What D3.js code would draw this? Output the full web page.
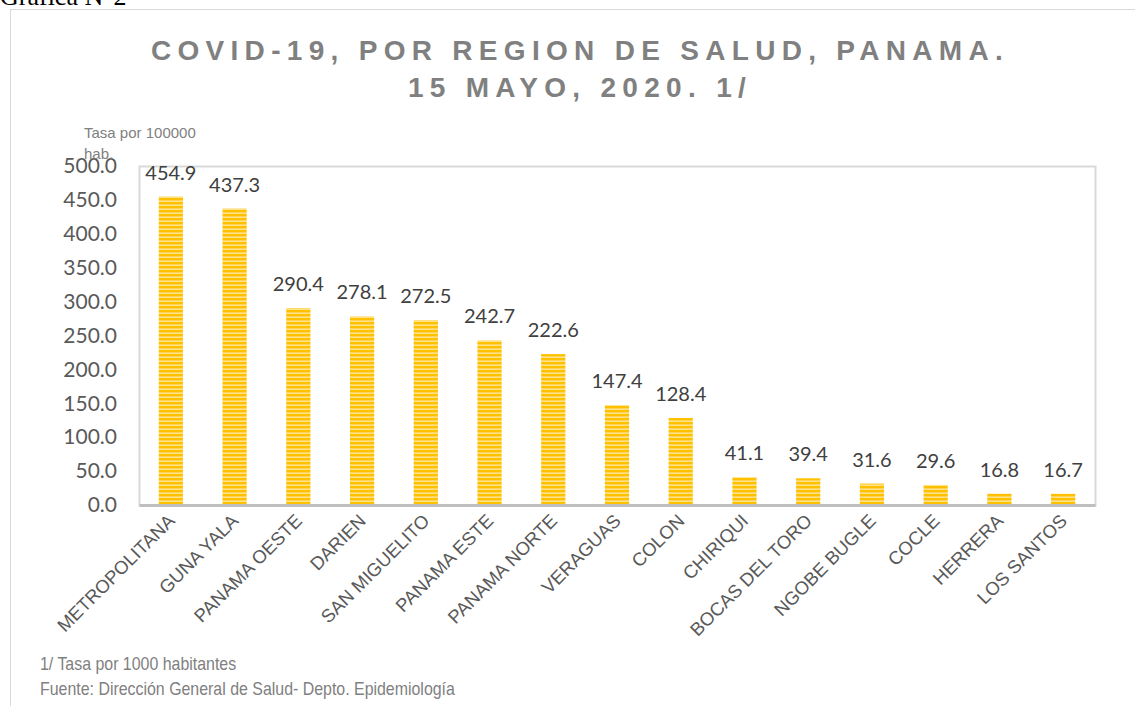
<!DOCTYPE html>
<html>
<head>
<meta charset="utf-8">
<script src="https://cdn.jsdelivr.net/npm/d3@7"></script>
<style>
  body { margin: 0; background: #fff; }
  svg { display: block; }
</style>
</head>
<body>
<svg id="chart" width="1135" height="706"></svg>
<script>
// datos de la grafica
const regiones = ["METROPOLITANA", "GUNA YALA", "PANAMA OESTE", "DARIEN", "SAN MIGUELITO",
  "PANAMA ESTE", "PANAMA NORTE", "VERAGUAS", "COLON", "CHIRIQUI", "BOCAS DEL TORO",
  "NGOBE BUGLE", "COCLE", "HERRERA", "LOS SANTOS"];
const tasas = [454.9, 437.3, 290.4, 278.1, 272.5, 242.7, 222.6, 147.4, 128.4, 41.1, 39.4, 31.6, 29.6, 16.8, 16.7];
const yTicks = [0, 50, 100, 150, 200, 250, 300, 350, 400, 450, 500];

const svg = d3.select("#chart");
const margin = { top: 166, left: 139 };
const boundsW = 1095 - margin.left;
const boundsH = 505 - margin.top;

// patron de rayas para las barras
const defs = svg.append("defs");
const pat = defs.append("pattern")
  .attr("id", "rayas")
  .attr("patternUnits", "userSpaceOnUse")
  .attr("width", 8).attr("height", 4);
pat.append("rect").attr("width", 8).attr("height", 4).attr("fill", "#ffe38a");
pat.append("rect").attr("width", 8).attr("height", 2.4).attr("fill", "#ffc000");

// marco exterior
svg.append("rect")
  .attr("x", 10.5).attr("y", 9.5)
  .attr("width", 1140).attr("height", 720)
  .attr("fill", "none").attr("stroke", "#d9d9d9");

svg.append("text")
  .attr("x", 0).attr("y", 5)
  .style("font-family", "'Liberation Serif', serif")
  .style("font-size", "26px")
  .attr("fill", "#000")
  .text("Gráfica N°2");

// titulo
const titulo = ["COVID-19, POR REGION DE SALUD, PANAMA.", "15 MAYO, 2020. 1/"];
svg.selectAll(".titulo")
  .data(titulo)
  .enter()
  .append("text")
  .attr("x", 580)
  .attr("y", (d, i) => 60 + i * 37)
  .attr("text-anchor", "middle")
  .style("font-family", "'Liberation Sans', Arial, sans-serif")
  .style("font-size", "28px")
  .style("font-weight", "bold")
  .style("letter-spacing", "6.3px")
  .attr("fill", "#808080")
  .text(d => d);

// escalas
const scaleX = d3.scaleBand()
  .domain(regiones)
  .range([0, boundsW])
  .paddingInner(0.62)
  .paddingOuter(0.31);

const scaleY = d3.scaleLinear()
  .domain([0, 500])
  .range([boundsH, 0]);

const g = svg.append("g")
  .attr("transform", `translate(${margin.left}, ${margin.top})`);

// borde del area de graficos
g.append("rect")
  .attr("x", 0.5).attr("y", 0.5)
  .attr("width", boundsW).attr("height", boundsH)
  .attr("fill", "none").attr("stroke", "#d9d9d9").attr("stroke-width", 2);

// eje Y
const yAxis = d3.axisLeft(scaleY)
  .tickValues(yTicks)
  .tickFormat(d3.format(".1f"))
  .tickSize(0)
  .tickPadding(22);
const gy = g.append("g").call(yAxis);
gy.select(".domain").remove();
gy.selectAll("text")
  .style("font-family", "Lato, 'Open Sans', sans-serif")
  .style("font-size", "21px")
  .attr("fill", "#595959");

// barras
g.selectAll(".bar")
  .data(tasas)
  .enter()
  .append("rect")
  .attr("x", (d, i) => scaleX(regiones[i]))
  .attr("y", d => scaleY(d))
  .attr("width", scaleX.bandwidth())
  .attr("height", d => boundsH - scaleY(d))
  .attr("fill", "url(#rayas)");

// etiquetas de datos
g.selectAll(".etiqueta")
  .data(tasas)
  .enter()
  .append("text")
  .attr("x", (d, i) => scaleX(regiones[i]) + scaleX.bandwidth() / 2)
  .attr("y", d => scaleY(d) - 17)
  .attr("text-anchor", "middle")
  .style("font-family", "Lato, 'Open Sans', sans-serif")
  .style("font-size", "20px")
  .attr("fill", "#404040")
  .text(d => d.toFixed(1));

// eje X
const xAxis = d3.axisBottom(scaleX).tickSize(0).tickPadding(0);
const gx = g.append("g")
  .attr("transform", `translate(0, ${boundsH})`)
  .call(xAxis);
gx.select(".domain")
  .attr("stroke", "#bfbfbf")
  .attr("stroke-width", 3);
gx.selectAll("text")
  .style("font-family", "'Liberation Sans', Arial, sans-serif")
  .style("font-size", "18.5px")
  .attr("fill", "#595959")
  .style("text-anchor", "end")
  .attr("dy", "0")
  .attr("transform", "translate(5, 17) rotate(-45)");

// titulo del eje Y
svg.append("text")
  .attr("x", 84).attr("y", 138)
  .style("font-family", "'Liberation Sans', Arial, sans-serif")
  .style("font-size", "15px")
  .attr("fill", "#808080")
  .text("Tasa por 100000");
svg.append("text")
  .attr("x", 84).attr("y", 159)
  .style("font-family", "'Liberation Sans', Arial, sans-serif")
  .style("font-size", "15px")
  .attr("fill", "#808080")
  .text("hab.");

// notas
const notas = ["1/ Tasa por 1000 habitantes", "Fuente: Dirección General de Salud- Depto. Epidemiología"];
svg.selectAll(".nota")
  .data(notas)
  .enter()
  .append("text")
  .attr("transform", (d, i) => `translate(40, ${670 + i * 25}) scale(0.91, 1)`)
  .style("font-family", "'Liberation Sans', Arial, sans-serif")
  .style("font-size", "17.5px")
  .attr("fill", "#808080")
  .text(d => d);
</script>
</body>
</html>
